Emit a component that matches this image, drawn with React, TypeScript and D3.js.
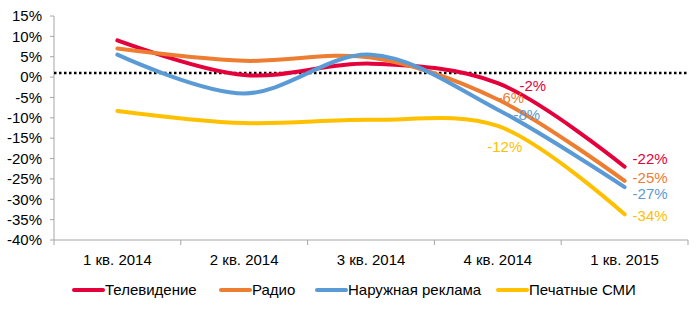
import React from "react";
import * as d3 from "d3";

const categories = ["1 кв. 2014", "2 кв. 2014", "3 кв. 2014", "4 кв. 2014", "1 кв. 2015"];
const seriesNames = ["Телевидение", "Радио", "Наружная реклама", "Печатные СМИ"];
const tvValues = [9, 0.5, 3.3, -1.5, -22];
const radioValues = [7, 4, 4.8, -5.5, -25.5];
const outdoorValues = [5.5, -4, 5.5, -8, -27];
const printValues = [-8.3, -11.3, -10.5, -12, -33.7];
const q4Labels = ["-2%", "-6%", "-8%", "-12%"];
const endLabels = ["-22%", "-25%", "-27%", "-34%"];
const yTicks = [15, 10, 5, 0, -5, -10, -15, -20, -25, -30, -35, -40];
const referenceLine = 1;

const colors = ["#E4003A", "#ED7D31", "#5B9BD5", "#FFC000"];
const q4Offsets = [[35, 3], [13, -1.5], [29, 5], [7, 21]];
const endOffsets = [[8, -8], [8, -3], [8, 7], [8, 1]];
const legendX = [74, 221, 317, 498];

export default function App() {
  const W = 700, H = 310;
  const left = 54, right = 688, top = 16, bottom = 240;
  const x = d3.scaleBand<string>().domain(categories).range([left, right]);
  const y = d3.scaleLinear().domain([-40, 15]).range([bottom, top]);
  const cx = (c: string) => (x(c) as number) + x.bandwidth() / 2;
  const all = [tvValues, radioValues, outdoorValues, printValues];
  const line = d3
    .line<number>()
    .x((_, i) => cx(categories[i]))
    .y((d) => y(d))
    .curve(d3.curveCatmullRom.alpha(0.5));
  const font = "Liberation Sans, Arial, sans-serif";
  const fs = 15;
  const tickEdges = [...categories.map((c) => x(c) as number), right];

  return (
    <svg width={W} height={H} style={{ position: "absolute", left: 0, top: 0, background: "#fff" }} fontFamily={font}>
      {/* y axis */}
      <line x1={left} x2={left} y1={top} y2={bottom} stroke="#A6A6A6" />
      {yTicks.map((t) => (
        <g key={t}>
          <line x1={left - 4} x2={left} y1={y(t)} y2={y(t)} stroke="#A6A6A6" />
          <text x={left - 12} y={y(t)} dy="0.35em" textAnchor="end" fontSize={fs} fill="#000">
            {t}%
          </text>
        </g>
      ))}
      {/* x axis */}
      <line x1={left} x2={right} y1={bottom} y2={bottom} stroke="#A6A6A6" />
      {tickEdges.map((e, i) => (
        <line key={i} x1={e} x2={e} y1={bottom} y2={bottom + 5} stroke="#A6A6A6" />
      ))}
      {categories.map((c) => (
        <text key={c} x={cx(c)} y={bottom + 25} textAnchor="middle" fontSize={fs} fill="#000">
          {c}
        </text>
      ))}
      {/* reference line */}
      <line x1={left} x2={right} y1={y(referenceLine)} y2={y(referenceLine)} stroke="#000" strokeWidth={2.5} strokeDasharray="2.5 2.5" />
      {/* series */}
      {all.map((vals, s) => (
        <path key={s} d={line(vals) as string} fill="none" stroke={colors[s]} strokeWidth={4} strokeLinecap="round" />
      ))}
      {/* labels */}
      {all.map((vals, s) => (
        <g key={s}>
          <text x={cx(categories[3]) + q4Offsets[s][0]} y={y(vals[3]) + q4Offsets[s][1]} dy="0.35em" textAnchor="middle" fontSize={fs} fill={colors[s]}>
            {q4Labels[s]}
          </text>
          <text x={cx(categories[4]) + endOffsets[s][0]} y={y(vals[4]) + endOffsets[s][1]} dy="0.35em" textAnchor="start" fontSize={fs} fill={colors[s]}>
            {endLabels[s]}
          </text>
        </g>
      ))}
      {/* legend */}
      {seriesNames.map((n, s) => (
        <g key={n}>
          <line x1={legendX[s]} x2={legendX[s] + 29} y1={290} y2={290} stroke={colors[s]} strokeWidth={4} strokeLinecap="round" />
          <text x={legendX[s] + 31} y={290} dy="0.35em" fontSize={fs} fill="#000">
            {n}
          </text>
        </g>
      ))}
    </svg>
  );
}
